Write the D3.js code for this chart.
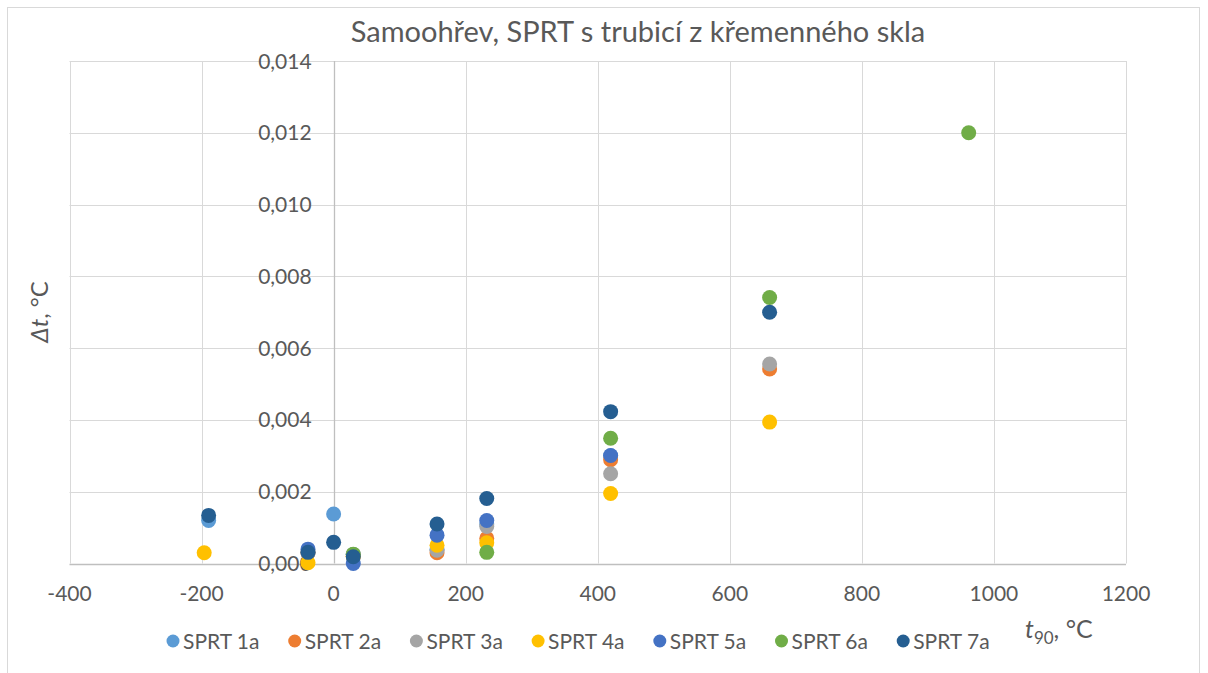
<!DOCTYPE html>
<html>
<head>
<meta charset="utf-8">
<script src="https://cdn.jsdelivr.net/npm/d3@7"></script>
<style>
  body { margin: 0; background: #fff; }
  svg { font-family: Lato, "Open Sans", sans-serif; }
</style>
</head>
<body>
<svg id="plot"></svg>
<script>
const width = 1208;
const height = 673;

// series names and colours (Excel office palette)
const seriesNames = ['SPRT 1a', 'SPRT 2a', 'SPRT 3a', 'SPRT 4a', 'SPRT 5a', 'SPRT 6a', 'SPRT 7a'];
const seriesColors = ['#5b9bd5', '#ed7d31', '#a5a5a5', '#ffc000', '#4472c4', '#70ad47', '#255e91'];

// t90 in °C, Δt in °C
const t1a = [-189.3, -38.8, 0.01, 29.76, 156.6, 231.9, 419.5];
const d1a = [0.00120, 0.00030, 0.00138, 0.00025, 0.00040, 0.00110, 0.00300];
const t2a = [-38.8, 29.76, 156.6, 231.9, 419.5, 660.3];
const d2a = [0.00030, 0.00020, 0.00030, 0.00070, 0.00289, 0.00542];
const t3a = [-38.8, 29.76, 156.6, 231.9, 419.5, 660.3];
const d3a = [0.00030, 0.00025, 0.00037, 0.00103, 0.00250, 0.00556];
const t4a = [-196, -38.8, 29.76, 156.6, 231.9, 419.5, 660.3];
const d4a = [0.00030, 0.00002, 0.00020, 0.00051, 0.00058, 0.00195, 0.00394];
const t5a = [-38.8, 29.76, 156.6, 231.9, 419.5];
const d5a = [0.00040, 0.00000, 0.00079, 0.00120, 0.00301];
const t6a = [29.76, 231.9, 419.5, 660.3, 961.78];
const d6a = [0.00026, 0.00031, 0.00349, 0.00741, 0.01200];
const t7a = [-189.3, -38.8, 0.01, 29.76, 156.6, 231.9, 419.5, 660.3];
const d7a = [0.00134, 0.00031, 0.00059, 0.00019, 0.00110, 0.00181, 0.00423, 0.00700];

const seriesT = [t1a, t2a, t3a, t4a, t5a, t6a, t7a];
const seriesD = [d1a, d2a, d3a, d4a, d5a, d6a, d7a];

const xTicks = [-400, -200, 0, 200, 400, 600, 800, 1000, 1200];
const yTicks = [0, 0.002, 0.004, 0.006, 0.008, 0.010, 0.012, 0.014];

const titleText = 'Samoohřev, SPRT s trubicí z křemenného skla';

const locale = d3.formatLocale({decimal: ',', thousands: ' ', grouping: [3], currency: ['', '']});
const fmtY = locale.format('.3f');

function main(){
  const svg = d3.select('svg#plot')
  .attr('width', width)
  .attr('height', height);

  const sx = d3.scaleLinear().domain([-400, 1200]).range([69.5, 1126]);
  const sy = d3.scaleLinear().domain([0, 0.014]).range([563.5, 61]);

  // chart frame
  svg.append('rect')
  .attr('x', 7.5).attr('y', 7.5)
  .attr('width', 1192).attr('height', 700)
  .attr('fill', 'white')
  .attr('stroke', '#d9d9d9');

  // gridlines
  const grid = svg.append('g');
  grid.selectAll('.vg')
  .data(xTicks.filter(d => d !== 0))
  .enter().append('line')
  .attr('x1', d => Math.round(sx(d)) + 0.5).attr('x2', d => Math.round(sx(d)) + 0.5)
  .attr('y1', sy(0.014)).attr('y2', sy(0))
  .attr('stroke', '#d9d9d9');
  grid.selectAll('.hg')
  .data(yTicks.filter(d => d !== 0))
  .enter().append('line')
  .attr('x1', sx(-400)).attr('x2', sx(1200))
  .attr('y1', d => Math.round(sy(d)) + 0.5).attr('y2', d => Math.round(sy(d)) + 0.5)
  .attr('stroke', '#d9d9d9');

  // axis lines
  svg.append('line')
  .attr('x1', sx(-400)).attr('x2', sx(1200))
  .attr('y1', Math.round(sy(0)) + 0.5).attr('y2', Math.round(sy(0)) + 0.5)
  .attr('stroke', '#bfbfbf').attr('stroke-width', 1.3);
  svg.append('line')
  .attr('x1', Math.round(sx(0)) + 0.5).attr('x2', Math.round(sx(0)) + 0.5)
  .attr('y1', sy(0.014)).attr('y2', sy(0))
  .attr('stroke', '#bfbfbf').attr('stroke-width', 1.3);

  // tick labels
  svg.append('g').selectAll('text')
  .data(xTicks)
  .enter().append('text')
  .attr('x', d => sx(d))
  .attr('y', 601)
  .attr('text-anchor', 'middle')
  .attr('font-size', 21)
  .attr('fill', '#595959')
  .text(d => d);

  svg.append('g').selectAll('text')
  .data(yTicks)
  .enter().append('text')
  .attr('x', sx(0) - 22)
  .attr('y', d => sy(d) + 7.5)
  .attr('text-anchor', 'end')
  .attr('font-size', 21)
  .attr('fill', '#595959')
  .text(d => fmtY(d));

  // points, series 1 first so 7a lies on top
  seriesNames.forEach((name, i) => {
    svg.append('g').selectAll('circle')
    .data(d3.zip(seriesT[i], seriesD[i]))
    .enter().append('circle')
    .attr('cx', d => sx(d[0]))
    .attr('cy', d => sy(d[1]))
    .attr('r', 7.5)
    .attr('fill', seriesColors[i]);
  });

  // title
  svg.append('text')
  .attr('x', 638).attr('y', 42)
  .attr('text-anchor', 'middle')
  .attr('font-size', 29)
  .attr('fill', '#595959')
  .text(titleText);

  // y axis title
  const yt = svg.append('text')
  .attr('transform', 'translate(48,312) rotate(-90)')
  .attr('text-anchor', 'middle')
  .attr('font-size', 24)
  .attr('fill', '#595959');
  yt.append('tspan').attr('font-style', 'italic').text('Δt');
  yt.append('tspan').text(', °C');

  // x axis title
  const xt = svg.append('text')
  .attr('x', 1025).attr('y', 638)
  .attr('font-size', 25)
  .attr('fill', '#595959');
  xt.append('tspan').attr('font-style', 'italic').text('t');
  xt.append('tspan').attr('font-size', 17).attr('dy', 6).text('90');
  xt.append('tspan').attr('dy', -6).text(', °C');

  // legend
  const legend = svg.append('g').selectAll('g')
  .data(seriesNames)
  .enter().append('g')
  .attr('transform', (d, i) => `translate(${173 + i * 121.7},641)`);
  legend.append('circle')
  .attr('r', 6.5)
  .attr('fill', (d, i) => seriesColors[i]);
  legend.append('text')
  .attr('x', 10).attr('y', 7.5)
  .attr('font-size', 21)
  .attr('fill', '#595959')
  .text(d => d);
}

document.addEventListener('DOMContentLoaded', main);
</script>
</body>
</html>
